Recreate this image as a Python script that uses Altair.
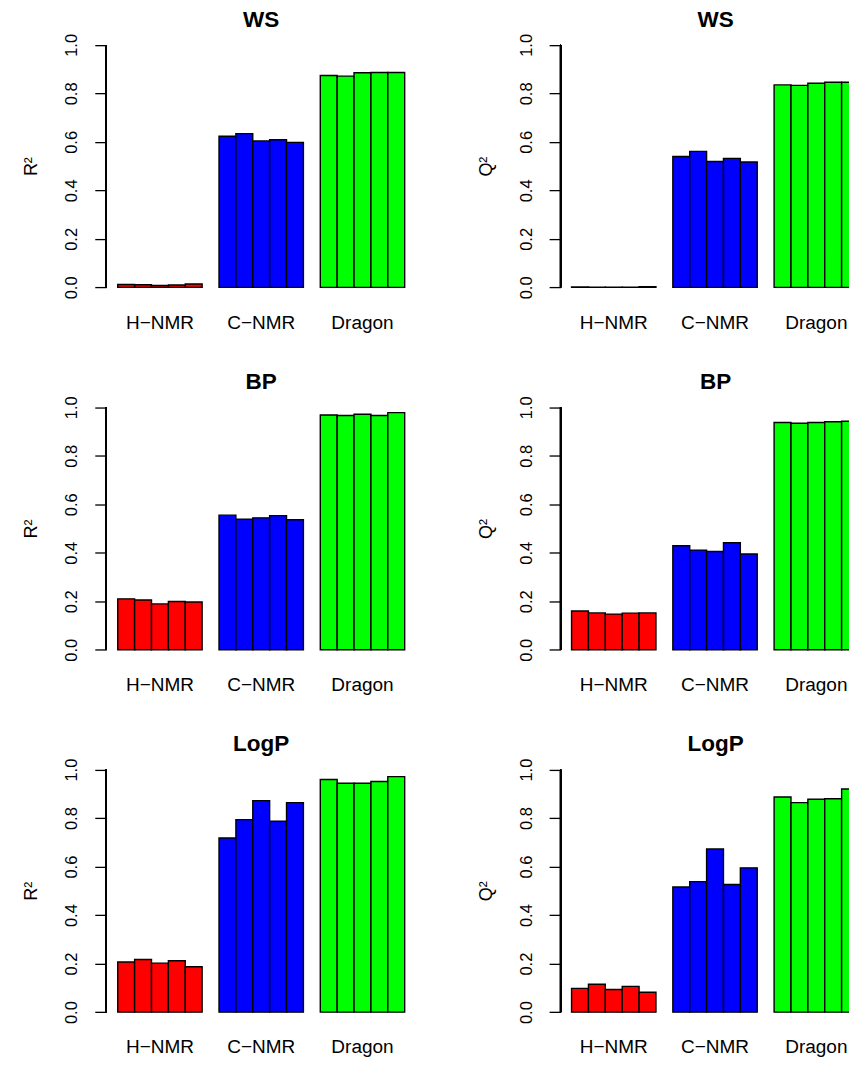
import altair as alt
import pandas as pd

# ---- data ----
groups = ["H\u2212NMR", "C\u2212NMR", "Dragon"]
colors = ["#FF0000", "#0000FF", "#00FF00"]
runs = ["1", "2", "3", "4", "5"]

ws_r2 = [[0.012, 0.011, 0.008, 0.010, 0.014],
         [0.623, 0.634, 0.604, 0.609, 0.598],
         [0.874, 0.871, 0.885, 0.886, 0.886]]
ws_q2 = [[0.002, 0.001, 0.001, 0.001, 0.003],
         [0.540, 0.561, 0.519, 0.532, 0.517],
         [0.835, 0.833, 0.842, 0.846, 0.846]]
bp_r2 = [[0.210, 0.205, 0.189, 0.199, 0.197],
         [0.555, 0.538, 0.544, 0.553, 0.536],
         [0.968, 0.966, 0.971, 0.966, 0.978]]
bp_q2 = [[0.160, 0.152, 0.147, 0.151, 0.152],
         [0.429, 0.411, 0.405, 0.441, 0.395],
         [0.937, 0.934, 0.937, 0.940, 0.942]]
logp_r2 = [[0.207, 0.217, 0.202, 0.212, 0.187],
           [0.718, 0.794, 0.872, 0.787, 0.864],
           [0.959, 0.944, 0.944, 0.951, 0.971]]
logp_q2 = [[0.098, 0.115, 0.093, 0.106, 0.082],
           [0.516, 0.538, 0.673, 0.526, 0.595],
           [0.887, 0.864, 0.878, 0.880, 0.920]]

tick_values = [0.0, 0.2, 0.4, 0.6, 0.8, 1.0]

FONT = "Liberation Sans"
FULL_W = 310
RIGHT_W = 298
H = 262
UNIT = FULL_W / 18.36          # width of one bar (R barplot units)
STEP = 6 * UNIT


def panel(title, ytitle, values, width, title_dx=0):
    df = pd.DataFrame(
        [{"group": g, "run": r, "value": v}
         for g, row in zip(groups, values) for r, v in zip(runs, row)]
    )
    if width == FULL_W:
        xscale = alt.Scale(type="band", paddingInner=1 / 6, paddingOuter=0.68 / 6)
    else:
        # right column is cut at the page edge: keep bar size, put outer pad left
        p_out = (width - 17 * UNIT) / 2 / STEP
        xscale = alt.Scale(type="band", paddingInner=1 / 6, paddingOuter=p_out,
                           align=1)
    base = alt.Chart(df)
    bars = base.mark_bar(stroke="black", strokeWidth=1.4, clip=True).encode(
        x=alt.X("group:N", sort=groups, scale=xscale,
                axis=alt.Axis(title=None, domain=False, ticks=False,
                              labelAngle=0, labelFontSize=19, labelFont=FONT,
                              labelColor="black", labelPadding=16)),
        xOffset=alt.XOffset("run:N", sort=runs,
                            scale=alt.Scale(paddingInner=0, paddingOuter=0)),
        y=alt.Y("value:Q",
                scale=alt.Scale(domain=[-0.04, 1.04], nice=False, zero=False),
                axis=alt.Axis(title=ytitle, values=tick_values, format=".1f",
                              domain=False, grid=False, tickSize=11.5,
                              tickWidth=1.3, tickColor="black",
                              labelAngle=270, labelAlign="center",
                              labelBaseline="alphabetic", labelPadding=18,
                              labelFontSize=16.5, labelFont=FONT,
                              labelColor="black",
                              titleFont=FONT, titleFontSize=18,
                              titleFontWeight="normal", titleColor="black",
                              titlePadding=23)),
        y2=alt.datum(0),
        color=alt.Color("group:N", sort=groups,
                        scale=alt.Scale(domain=groups, range=colors),
                        legend=None),
    )
    axis_line = base.mark_rule(color="black", strokeWidth=1.3).encode(
        x=alt.value(0), y=alt.datum(0.0), y2=alt.datum(1.0)
    )
    return alt.layer(bars, axis_line).properties(
        width=width, height=H,
        title=alt.TitleParams(title, fontSize=22.5, font=FONT, fontWeight="bold",
                              color="black", anchor="middle",
                              baseline="bottom", offset=-20.8, dx=title_dx),
    )


rows = [
    ("WS", ws_r2, ws_q2),
    ("BP", bp_r2, bp_q2),
    ("LogP", logp_r2, logp_q2),
]

panels = []
for name, r2, q2 in rows:
    panels.append(panel(name, "R\u00b2", r2, FULL_W))
    panels.append(panel(name, "Q\u00b2", q2, RIGHT_W,
                        title_dx=(FULL_W - RIGHT_W) / 2))

chart = alt.concat(
    *panels, columns=2,
    spacing={"row": 100.5, "column": 144.5}, bounds="flush",
).properties(
    padding={"left": 14.3, "top": 0, "right": -10, "bottom": 0},
    background="white",
).configure_view(stroke=None)

chart.save("out.html", embed_options={"renderer": "svg", "actions": False})
